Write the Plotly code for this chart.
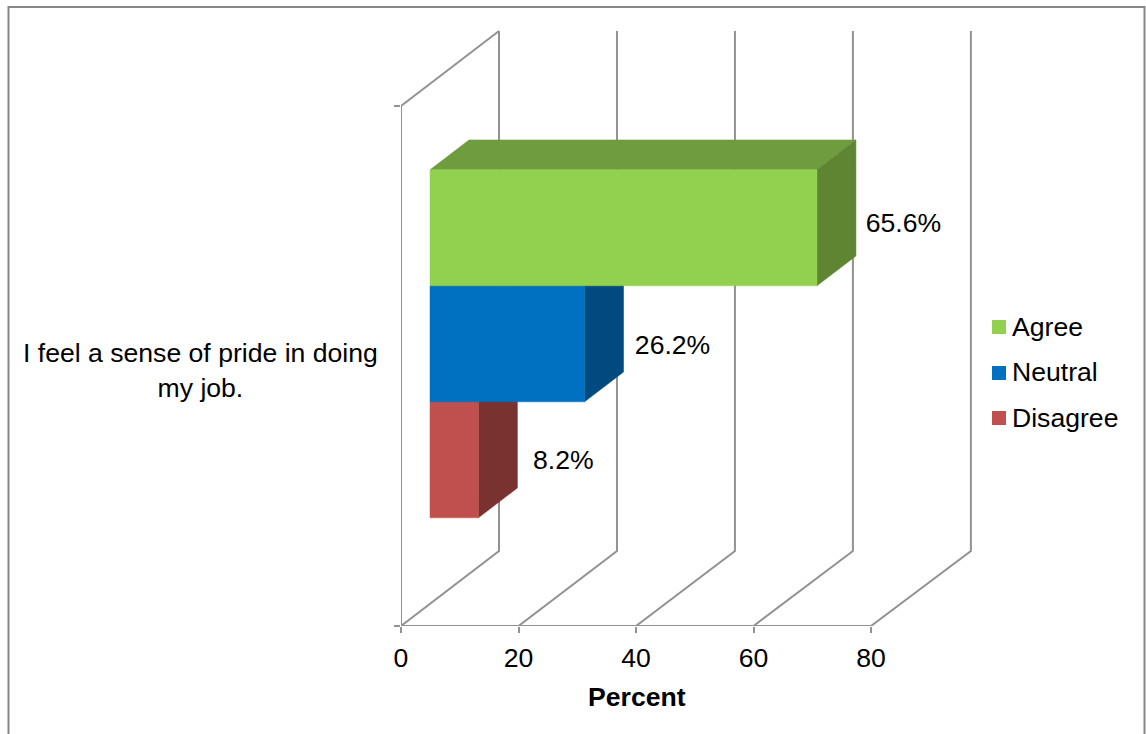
import plotly.graph_objects as go

# Survey result
QUESTION = "I feel a sense of pride in doing<br>my job."
AXIS_TITLE = "Percent"
SERIES = ["Agree", "Neutral", "Disagree"]
PERCENT = [65.6, 26.2, 8.2]
LABELS = ["65.6%", "26.2%", "8.2%"]
X_TICKS = [0, 20, 40, 60, 80]

# Face colours per series: front, top, side
FRONT = ["#92D050", "#0070C0", "#C0504D"]
TOP = ["#6F9C3E", "#005A9A", "#9A403E"]
SIDE = ["#5F8533", "#004A80", "#7A3230"]
WALL = "#929292"
TEXT = "#000000"
FONT = "Liberation Sans, Arial, sans-serif"
FONT_SIZE = 26.6

# Plot geometry: x = 0 at 401 px, x = 80 at 871 px, y = 0 at 626 px, y = 1 at 106 px
ORIGIN_X, ORIGIN_Y = 401, 626
PX_PER_X, PX_PER_Y = 470 / 80, 520
PLOT_R, PLOT_T = 1146, 20
X_MAX = (PLOT_R - ORIGIN_X) / PX_PER_X
Y_MAX = (ORIGIN_Y - PLOT_T) / PX_PER_Y

# Oblique projection of the 3D box, in axis units
SHIFT_X = 98 / PX_PER_X    # x travel from front wall to back wall
SHIFT_Y = 75 / PX_PER_Y    # y travel from front wall to back wall
STRETCH = 1.004            # planes behind the front wall are drawn slightly wider
BAR_FRONT, BAR_BACK = 0.296, 0.694
BAND = 116 / PX_PER_Y
BAND_START = (1 - 3 * BAND) / 2
LABEL_GAP_X = [47.5 / PX_PER_X, 49 / PX_PER_X, 46 / PX_PER_X]
LABEL_NUDGE_Y = [2 / PX_PER_Y, -4 / PX_PER_Y, -3 / PX_PER_Y]

# Hand-placed key, right of the box
KEY_X = (999 - ORIGIN_X) / PX_PER_X
KEY_TEXT_X = (1012 - ORIGIN_X) / PX_PER_X
KEY_Y = [(ORIGIN_Y - p) / PX_PER_Y for p in (327, 373, 418)]
KEY_TEXT_Y = [(ORIGIN_Y - p) / PX_PER_Y for p in (329, 374, 420)]


def project(x, y, depth):
    scale = STRETCH if depth > 0 else 1
    return x * scale + depth * SHIFT_X, y + depth * SHIFT_Y


def path(points):
    pairs = [project(*p) for p in points]
    return [p[0] for p in pairs], [p[1] for p in pairs]


fig = go.Figure()


def add_line(points):
    xs, ys = path(points)
    fig.add_trace(go.Scatter(x=xs, y=ys, mode="lines", showlegend=False, hoverinfo="skip",
                             line=dict(color=WALL, width=2)))


def add_face(points, colour):
    xs, ys = path(points + points[:1])
    fig.add_trace(go.Scatter(x=xs, y=ys, mode="lines", fill="toself", fillcolor=colour,
                             showlegend=False, hoverinfo="skip",
                             line=dict(color=colour, width=0.5)))


# Walls, floor grid and the value axis line
for tick in X_TICKS:
    add_line([(tick, 0, 0), (tick, 0, 1), (tick, 1, 1)])
add_line([(0, 1, 1), (0, 1, 0), (0, 0, 0), (X_TICKS[-1], 0, 0)])

# Bars, from the lowest band upward so each one overlaps the one beneath
for i in reversed(range(len(SERIES))):
    low = BAND_START + (len(SERIES) - 1 - i) * BAND
    high = low + BAND
    v = PERCENT[i]
    add_face([(0, high, BAR_FRONT), (0, high, BAR_BACK), (v, high, BAR_BACK), (v, high, BAR_FRONT)], TOP[i])
    add_face([(v, low, BAR_FRONT), (v, low, BAR_BACK), (v, high, BAR_BACK), (v, high, BAR_FRONT)], SIDE[i])
    add_face([(0, low, BAR_FRONT), (v, low, BAR_FRONT), (v, high, BAR_FRONT), (0, high, BAR_FRONT)], FRONT[i])
    lx, _ = project(v, low, BAR_BACK)
    _, ly = project(v, (low + high) / 2 + LABEL_NUDGE_Y[i], BAR_FRONT)
    fig.add_trace(go.Scatter(x=[lx + LABEL_GAP_X[i]], y=[ly], mode="text", text=[LABELS[i]],
                             textposition="middle center", showlegend=False, hoverinfo="skip",
                             textfont=dict(family=FONT, size=FONT_SIZE, color=TEXT)))

# Key entries
for name, colour, key_y, text_y in zip(SERIES, FRONT, KEY_Y, KEY_TEXT_Y):
    fig.add_trace(go.Scatter(x=[KEY_X], y=[key_y], mode="markers", name=name, showlegend=False,
                             hoverinfo="skip", marker=dict(symbol="square", size=14, color=colour)))
    fig.add_trace(go.Scatter(x=[KEY_TEXT_X], y=[text_y], mode="text", text=[name],
                             textposition="middle right", showlegend=False, hoverinfo="skip",
                             textfont=dict(family=FONT, size=FONT_SIZE, color=TEXT)))

paper_w = PLOT_R - ORIGIN_X
paper_h = ORIGIN_Y - PLOT_T
fig.update_layout(
    width=1146, height=734, autosize=False,
    margin=dict(l=ORIGIN_X, r=1146 - PLOT_R, t=PLOT_T, b=734 - ORIGIN_Y, pad=0),
    paper_bgcolor="white", plot_bgcolor="rgba(0,0,0,0)", showlegend=False,
    font=dict(family=FONT, size=FONT_SIZE, color=TEXT),
    xaxis=dict(range=[0, X_MAX], tickmode="array", tickvals=X_TICKS, showgrid=False, zeroline=False,
               showline=False, ticks="outside", ticklen=6, tickcolor=WALL, tickwidth=2,
               tickfont=dict(size=FONT_SIZE), ticklabelstandoff=2),
    yaxis=dict(range=[0, Y_MAX], tickmode="array", tickvals=[0, 1], ticktext=["", ""], showgrid=False,
               zeroline=False, showline=False, ticks="outside", ticklen=6, tickcolor=WALL, tickwidth=2),
    annotations=[
        dict(text=QUESTION, xref="paper", yref="paper", x=(200 - ORIGIN_X) / paper_w,
             y=(ORIGIN_Y - 370) / paper_h, xanchor="center", yanchor="middle", align="center",
             showarrow=False, font=dict(family=FONT, size=FONT_SIZE, color=TEXT)),
        dict(text=f"<b>{AXIS_TITLE}</b>", xref="paper", yref="paper", x=(637 - ORIGIN_X) / paper_w,
             y=(ORIGIN_Y - 697) / paper_h, xanchor="center", yanchor="middle", showarrow=False,
             font=dict(family=FONT, size=FONT_SIZE, color=TEXT)),
    ],
    shapes=[dict(type="rect", xref="paper", yref="paper", layer="below",
                 x0=(8.5 - ORIGIN_X) / paper_w, x1=(1144.5 - ORIGIN_X) / paper_w,
                 y0=(ORIGIN_Y - 745) / paper_h, y1=(ORIGIN_Y - 7) / paper_h,
                 line=dict(color="#868686", width=2), fillcolor="white")],
)

fig.write_html("out.html")
